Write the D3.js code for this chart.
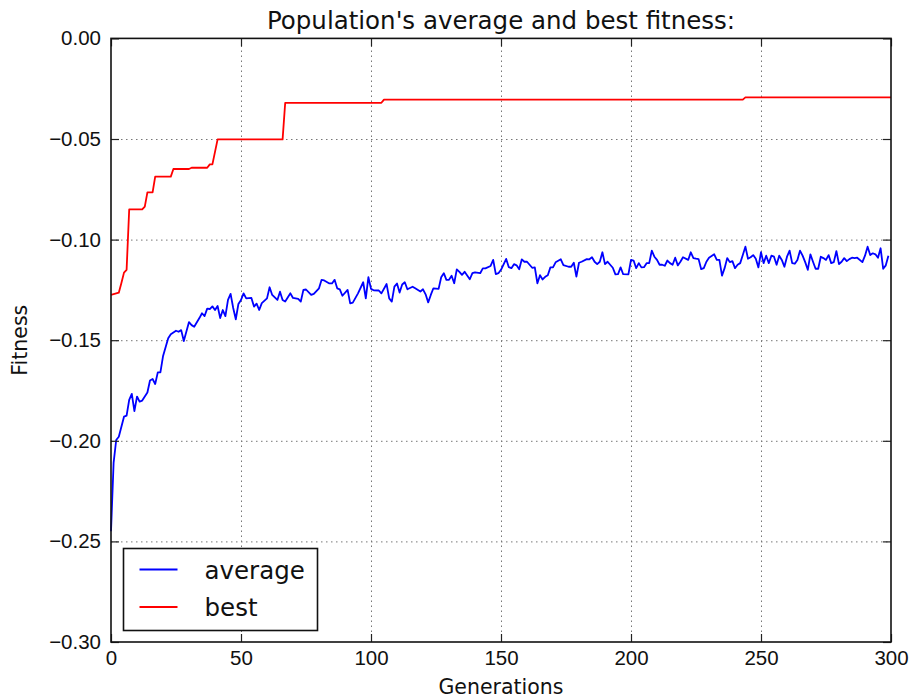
<!DOCTYPE html>
<html>
<head>
<meta charset="utf-8">
<script src="https://cdn.jsdelivr.net/npm/d3@7"></script>
<style>
  body { margin: 0; background: #fff; }
  svg { display: block; font-family: "DejaVu Sans", sans-serif; }
  .grid line { stroke: #777; stroke-width: 1; stroke-dasharray: 1.5,3.5; }
  .grid path { display: none; }
  .ticks line { stroke: #222; stroke-width: 1.2; }
  .ticks path { display: none; }
  .ticks text { font-size: 20.5px; fill: #111; }
</style>
</head>
<body>
<script>
const WIDTH = 913;
const HEIGHT = 698;
const LEFT = 111, RIGHT = 891, TOP = 38.4, BOTTOM = 642;

// x ticks / y ticks
const xTicks = [0, 50, 100, 150, 200, 250, 300];
const xTickLabels = ["0", "50", "100", "150", "200", "250", "300"];
const yTicks = [-0.30, -0.25, -0.20, -0.15, -0.10, -0.05, 0.00];
const yTickLabels = ["\u22120.30", "\u22120.25", "\u22120.20", "\u22120.15", "\u22120.10", "\u22120.05", "0.00"];

// best fitness (vertices of the step line)
const bestGen = [0, 3, 4, 5, 6, 7, 12, 13, 14, 16, 17, 23, 24, 30, 31, 37, 38, 39, 41, 66, 67, 104, 105, 243, 244, 300];
const bestVal = [-0.1275, -0.1264, -0.1216, -0.1164, -0.115, -0.085, -0.085, -0.0836, -0.0765, -0.0765, -0.0687, -0.0687,
  -0.0649, -0.0649, -0.0643, -0.0643, -0.0626, -0.0626, -0.0502, -0.0502, -0.032, -0.032, -0.0304, -0.0304, -0.0293, -0.0293];

// average fitness
const avgGen = [0, 1, 2, 3, 5, 6, 7, 8, 9, 10, 11, 12, 14, 15, 16, 17, 18, 19, 20, 22, 23, 25, 26, 27, 28, 30,
  31, 32, 34, 35, 36, 37, 38, 39, 40, 41, 42, 43, 44, 45, 46, 47, 48, 49, 50, 51, 52, 54, 55, 56, 57, 58, 60,
  61, 62, 64, 65, 66, 67, 69, 70, 72, 73, 74, 75, 77, 78, 80, 81, 82, 84, 85, 86, 87, 88, 89, 91, 92, 93, 95,
  97, 98, 99, 100, 101, 103, 104, 106, 107, 108, 109, 110, 111, 112, 113, 114, 116, 117, 119, 120, 121, 122,
  123, 124, 126, 127, 128, 129, 130, 131, 132, 133, 134, 135, 136, 138, 139, 140, 142, 143, 144, 146, 147,
  148, 149, 150, 152, 153, 154, 155, 156, 157, 158, 159, 160, 162, 163, 164, 165, 166, 167, 168, 169, 170,
  171, 173, 174, 176, 177, 178, 179, 180, 181, 183, 184, 185, 186, 187, 188, 189, 190, 191, 193, 194, 195,
  196, 197, 199, 200, 201, 202, 203, 204, 205, 206, 207, 208, 209, 210, 211, 212, 213, 214, 215, 216, 217,
  218, 219, 220, 222, 223, 224, 225, 226, 227, 228, 229, 230, 232, 233, 234, 235, 236, 237, 238, 239, 240,
  241, 242, 243, 244, 245, 246, 247, 248, 249, 250, 251, 252, 253, 254, 255, 256, 257, 258, 259, 260, 261,
  262, 263, 264, 265, 266, 267, 268, 269, 270, 271, 272, 273, 274, 275, 276, 277, 278, 279, 280, 281, 282,
  283, 284, 285, 286, 287, 289, 290, 291, 292, 293, 294, 295, 296, 297, 298, 299];
const avgVal = [-0.245, -0.211, -0.1996, -0.198, -0.188, -0.1875, -0.1797, -0.1767, -0.1852, -0.178, -0.1805,
  -0.180, -0.176, -0.170, -0.1693, -0.1718, -0.166, -0.166, -0.158, -0.149, -0.147, -0.1453, -0.1458, -0.145,
  -0.1504, -0.141, -0.1425, -0.1433, -0.139, -0.1366, -0.138, -0.1343, -0.1345, -0.1332, -0.135, -0.133,
  -0.139, -0.135, -0.138, -0.130, -0.127, -0.134, -0.1396, -0.132, -0.130, -0.1267, -0.1292, -0.129, -0.1333,
  -0.1318, -0.135, -0.1316, -0.1292, -0.1237, -0.1275, -0.130, -0.1259, -0.130, -0.1308, -0.1267, -0.129,
  -0.1295, -0.1308, -0.125, -0.1248, -0.1275, -0.127, -0.1242, -0.120, -0.1203, -0.1218, -0.1218, -0.120,
  -0.1242, -0.1247, -0.1279, -0.125, -0.1317, -0.1313, -0.1267, -0.1212, -0.1292, -0.1187, -0.1245, -0.1252,
  -0.1253, -0.1267, -0.1221, -0.1292, -0.1308, -0.1234, -0.1218, -0.1263, -0.1223, -0.1212, -0.1247, -0.1234,
  -0.1242, -0.1258, -0.1247, -0.1272, -0.1312, -0.1275, -0.1242, -0.1245, -0.1187, -0.1167, -0.120, -0.120,
  -0.118, -0.1217, -0.1148, -0.116, -0.1175, -0.116, -0.1197, -0.1167, -0.1163, -0.1167, -0.1143, -0.1143,
  -0.1131, -0.1101, -0.1172, -0.1167, -0.115, -0.1096, -0.1137, -0.1142, -0.1122, -0.1128, -0.1147, -0.1098,
  -0.111, -0.111, -0.114, -0.1138, -0.1217, -0.1177, -0.1198, -0.1185, -0.1177, -0.1138, -0.1138, -0.1113,
  -0.1098, -0.1127, -0.1135, -0.1135, -0.1115, -0.1184, -0.1115, -0.111, -0.1097, -0.1098, -0.1088, -0.111,
  -0.1122, -0.111, -0.1063, -0.1122, -0.111, -0.114, -0.1173, -0.1172, -0.1138, -0.1172, -0.1173, -0.1101,
  -0.1104, -0.1142, -0.1117, -0.1138, -0.1137, -0.1117, -0.1117, -0.1055, -0.1085, -0.1101, -0.1125, -0.1125,
  -0.113, -0.1104, -0.1117, -0.1125, -0.109, -0.1128, -0.111, -0.1088, -0.1101, -0.1063, -0.1092, -0.1095,
  -0.1097, -0.1147, -0.1142, -0.111, -0.109, -0.1073, -0.1101, -0.1101, -0.1179, -0.1142, -0.1092, -0.1112,
  -0.1107, -0.1142, -0.1125, -0.1117, -0.1077, -0.1035, -0.1095, -0.1088, -0.1077, -0.1095, -0.1138, -0.1063,
  -0.1117, -0.108, -0.1117, -0.108, -0.1085, -0.1125, -0.108, -0.1101, -0.1135, -0.1085, -0.1055, -0.1117,
  -0.112, -0.1101, -0.1055, -0.108, -0.1112, -0.115, -0.1073, -0.111, -0.1145, -0.1145, -0.1085, -0.1092,
  -0.1101, -0.1077, -0.1117, -0.1112, -0.1057, -0.1122, -0.111, -0.1092, -0.1107, -0.1097, -0.109, -0.1092,
  -0.109, -0.1112, -0.108, -0.1035, -0.1077, -0.1068, -0.1073, -0.109, -0.1043, -0.1145, -0.1128, -0.108];

const seriesNames = ["average", "best"];
const seriesColors = ["#0000ff", "#ff0000"];

var xScale = d3.scaleLinear().domain([0, 300]).range([LEFT, RIGHT]);
var yScale = d3.scaleLinear().domain([-0.30, 0.00]).range([BOTTOM, TOP]);

var svg = d3.select('body').append('svg')
  .attr('width', WIDTH)
  .attr('height', HEIGHT);

// grid
svg.append('g').classed('grid', true)
  .attr('transform', 'translate(0,' + BOTTOM + ')')
  .call(d3.axisBottom(xScale).tickValues(xTicks.slice(1, -1)).tickSize(-(BOTTOM - TOP)).tickFormat(''));
svg.append('g').classed('grid', true)
  .attr('transform', 'translate(' + LEFT + ',0)')
  .call(d3.axisLeft(yScale).tickValues(yTicks.slice(1, -1)).tickSize(-(RIGHT - LEFT)).tickFormat(''));

// lines
var line = d3.line()
  .x(function(d){ return xScale(d[0]); })
  .y(function(d){ return yScale(d[1]); });

var avgData = avgGen.map(function(g, i){ return [g, avgVal[i]]; });
var bestData = bestGen.map(function(g, i){ return [g, bestVal[i]]; });

svg.append('path').attr('d', line(avgData))
  .attr('fill', 'none').attr('stroke', seriesColors[0]).attr('stroke-width', 1.8).attr('stroke-linejoin', 'round');
svg.append('path').attr('d', line(bestData))
  .attr('fill', 'none').attr('stroke', seriesColors[1]).attr('stroke-width', 1.8).attr('stroke-linejoin', 'round');

// ticks (inside, all four sides)
svg.append('g').classed('ticks', true)
  .attr('transform', 'translate(0,' + BOTTOM + ')')
  .call(d3.axisBottom(xScale).tickValues(xTicks).tickSize(-8).tickPadding(8)
    .tickFormat(function(d, i){ return xTickLabels[i]; }));
svg.append('g').classed('ticks', true)
  .attr('transform', 'translate(0,' + TOP + ')')
  .call(d3.axisTop(xScale).tickValues(xTicks).tickSize(-8).tickFormat(''));
svg.append('g').classed('ticks', true)
  .attr('transform', 'translate(' + LEFT + ',0)')
  .call(d3.axisLeft(yScale).tickValues(yTicks).tickSize(-8).tickPadding(10)
    .tickFormat(function(d, i){ return yTickLabels[i]; }));
svg.append('g').classed('ticks', true)
  .attr('transform', 'translate(' + RIGHT + ',0)')
  .call(d3.axisRight(yScale).tickValues(yTicks).tickSize(-8).tickFormat(''));

// frame
svg.append('rect')
  .attr('x', LEFT).attr('y', TOP)
  .attr('width', RIGHT - LEFT).attr('height', BOTTOM - TOP)
  .attr('fill', 'none').attr('stroke', '#111').attr('stroke-width', 1.6);

// title and labels
svg.append('text')
  .attr('x', (LEFT + RIGHT) / 2).attr('y', 29)
  .attr('text-anchor', 'middle').style('font-size', '24.5px').attr('fill', '#111')
  .text("Population's average and best fitness:");
svg.append('text')
  .attr('x', (LEFT + RIGHT) / 2).attr('y', 694)
  .attr('text-anchor', 'middle').style('font-size', '20.5px').attr('fill', '#111')
  .text('Generations');
svg.append('text')
  .attr('transform', 'translate(27,' + ((TOP + BOTTOM) / 2) + ') rotate(-90)')
  .attr('text-anchor', 'middle').style('font-size', '20.5px').attr('fill', '#111')
  .text('Fitness');

// legend
var legend = svg.append('g').attr('transform', 'translate(123.5,548.5)');
legend.append('rect')
  .attr('width', 194).attr('height', 82)
  .attr('fill', '#fff').attr('stroke', '#111').attr('stroke-width', 1.6);
seriesNames.forEach(function(name, i){
  var yy = 21 + i * 37.5;
  legend.append('line')
    .attr('x1', 16).attr('x2', 54).attr('y1', yy).attr('y2', yy)
    .attr('stroke', seriesColors[i]).attr('stroke-width', 1.8);
  legend.append('text')
    .attr('x', 81).attr('y', yy + 9)
    .style('font-size', '24.5px').attr('fill', '#111')
    .text(name);
});
</script>
</body>
</html>
